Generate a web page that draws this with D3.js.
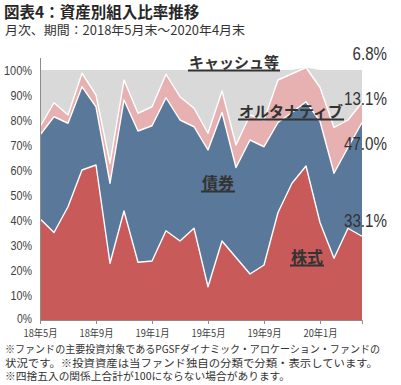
<!DOCTYPE html>
<html>
<head>
<meta charset="utf-8">
<script src="https://cdn.jsdelivr.net/npm/d3@7"></script>
<style>
    body { margin: 0; background: #fff; }
    svg { display: block; }
    .jp { font-family: "Noto Sans CJK JP", "Noto Sans", sans-serif; }
    .num { font-family: "Liberation Sans Narrow", "Arial Narrow", "Liberation Sans", sans-serif; }
</style>
</head>
<body>
<div id="chart"></div>
<script>
// month labels, 2018/05 .. 2020/04
var months = ["18年5月", "18年6月", "18年7月", "18年8月", "18年9月", "18年10月", "18年11月", "18年12月",
    "19年1月", "19年2月", "19年3月", "19年4月", "19年5月", "19年6月", "19年7月", "19年8月",
    "19年9月", "19年10月", "19年11月", "19年12月", "20年1月", "20年2月", "20年3月", "20年4月"];
var xTickLabels = ["18年5月", "18年9月", "19年1月", "19年5月", "19年9月", "20年1月"];
var yTicks = [0, 10, 20, 30, 40, 50, 60, 70, 80, 90, 100];

// share of each asset class (%)
var stocks = [40.5, 35, 45.3, 60, 62, 22.7, 43.6, 23.1, 23.6, 35.7, 31.6, 36.7,
    13.3, 31.6, 25, 18.4, 22, 43, 54.7, 61.6, 39, 24.7, 36.7, 33.5];
var bonds = [33.5, 46.3, 33.4, 33.3, 23.3, 32, 44.4, 52.5, 54.1, 53.2, 48.4, 40.6,
    54.7, 51.4, 36, 53.6, 47.3, 36, 28.3, 25.7, 40.5, 34, 32.3, 45.5];
var alternatives = [3.3, 5.6, 3.3, 5.4, 4.7, 8, 8, 7.1, 7.6, 9.4, 9.3, 7.4,
    6.7, 8.6, 9, 10, 10.7, 17, 15.5, 13.7, 13.5, 18.3, 11, 8];
var cash = [22.7, 13.1, 18, 1.3, 10, 37.3, 4, 17.3, 14.7, 1.7, 10.7, 15.3,
    25.3, 8.4, 30, 18, 20, 4, 1.5, 0, 7, 23, 20, 13];

// latest month labels
var latestLabels = ["6.8%", "13.1%", "47.0%", "33.1%"];

var keys = ["stocks", "bonds", "alternatives", "cash"];
var colors = { stocks: "#c85b5a", bonds: "#5a7899", alternatives: "#e6b1b0", cash: "#d9d9d9" };

var rows = months.map(function (m, i) {
    return { month: m, stocks: stocks[i], bonds: bonds[i], alternatives: alternatives[i], cash: cash[i] };
});

var W = 401, H = 385;
var svg = d3.select("#chart").append("svg")
    .attr("width", W)
    .attr("height", H);

// scales
var x = d3.scalePoint().domain(months).range([40, 362]);
var y = d3.scaleLinear().domain([0, 105]).range([320, 57.5]);

var series = d3.stack().keys(keys)(rows);

var area = d3.area()
    .x(function (d) { return x(d.data.month); })
    .y0(function (d) { return y(d[0]); })
    .y1(function (d) { return y(d[1]); });

var topLine = d3.line()
    .x(function (d) { return x(d.data.month); })
    .y(function (d) { return y(d[1]); });

// areas
svg.append("g").selectAll("path")
    .data(series)
    .enter()
    .append("path")
    .attr("d", area)
    .attr("fill", function (s) { return colors[s.key]; });

// white separators between layers
svg.append("g").selectAll("path")
    .data(series.filter(function (s) { return s.key !== "cash"; }))
    .enter()
    .append("path")
    .attr("d", topLine)
    .attr("fill", "none")
    .attr("stroke", "#fff")
    .attr("stroke-width", 1.4)
    .attr("stroke-linejoin", "round");

// y axis
var yAxis = svg.append("g")
    .attr("transform", "translate(" + x(months[0]) + ",0)")
    .call(d3.axisLeft(y).tickValues(yTicks).tickSize(0).tickPadding(8)
        .tickFormat(function (d) { return d + "%"; }));
yAxis.select(".domain").attr("stroke", "#8c8c8c");
yAxis.selectAll("text")
    .attr("class", "num")
    .style("font-size", "13px")
    .attr("fill", "#404040")
    .attr("dy", function (d) { return d === 0 ? "0.2em" : "0.32em"; })
    .attr("textLength", function (d) { return String(d).length * 6.5 + 8.5; })
    .attr("lengthAdjust", "spacingAndGlyphs");

// x axis
var xAxis = svg.append("g")
    .attr("transform", "translate(0," + y(0) + ")")
    .call(d3.axisBottom(x).tickValues(xTickLabels).tickSizeOuter(0).tickSize(4).tickPadding(6));
xAxis.select(".domain").attr("stroke", "#8c8c8c");
xAxis.selectAll(".tick line").attr("stroke", "#8c8c8c");
xAxis.selectAll("text")
    .attr("class", "jp")
    .style("font-size", "10px")
    .attr("fill", "#404040")
    .attr("textLength", 34)
    .attr("lengthAdjust", "spacingAndGlyphs");

// title
svg.append("text")
    .attr("class", "jp")
    .attr("x", 4).attr("y", 18)
    .style("font-size", "15.5px")
    .style("font-weight", "bold")
    .attr("fill", "#262626")
    .text("図表4：資産別組入比率推移");

svg.append("text")
    .attr("class", "jp")
    .attr("x", 5).attr("y", 35)
    .attr("textLength", 240)
    .attr("lengthAdjust", "spacingAndGlyphs")
    .style("font-size", "12.5px")
    .attr("fill", "#333")
    .text("月次、期間：2018年5月末～2020年4月末");

// series names, underlined
var names = [
    { text: "キャッシュ等", cx: 234, base: 68, size: 15 },
    { text: "オルタナティブ", cx: 291, base: 117, size: 15 },
    { text: "債券", cx: 218, base: 189, size: 16 },
    { text: "株式", cx: 307, base: 263, size: 16 }
];
names.forEach(function (n) {
    var t = svg.append("text")
        .attr("class", "jp")
        .attr("x", n.cx).attr("y", n.base)
        .attr("text-anchor", "middle")
        .style("font-size", n.size + "px")
        .style("font-weight", "bold")
        .attr("fill", "#333")
        .text(n.text);
    var w = t.node().getComputedTextLength();
    svg.append("line")
        .attr("x1", n.cx - w / 2 - 1).attr("x2", n.cx + w / 2 + 1)
        .attr("y1", n.base + 2.5).attr("y2", n.base + 2.5)
        .attr("stroke", "#333")
        .attr("stroke-width", 2);
});

// latest values
var valueBase = [59.5, 105, 150, 227];
latestLabels.forEach(function (s, i) {
    svg.append("text")
        .attr("class", "num")
        .attr("x", 387).attr("y", valueBase[i])
        .attr("text-anchor", "end")
        .style("font-size", "18px")
        .attr("fill", "#333")
        .attr("textLength", s.length * 8.6)
        .attr("lengthAdjust", "spacingAndGlyphs")
        .text(s);
});

// footnotes
var notes = [
    { t: "※ファンドの主要投資対象であるPGSFダイナミック・アロケーション・ファンドの", w: 375, y: 353 },
    { t: "状況です。※投資資産は当ファンド独自の分類で分類・表示しています。", w: 373, y: 366.5 },
    { t: "※四捨五入の関係上合計が100にならない場合があります。", w: 285, y: 380 }
];
notes.forEach(function (n) {
    svg.append("text")
        .attr("class", "jp")
        .attr("x", 5).attr("y", n.y)
        .attr("textLength", n.w)
        .attr("lengthAdjust", "spacingAndGlyphs")
        .style("font-size", "10.5px")
        .attr("fill", "#333")
        .text(n.t);
});
</script>
</body>
</html>
